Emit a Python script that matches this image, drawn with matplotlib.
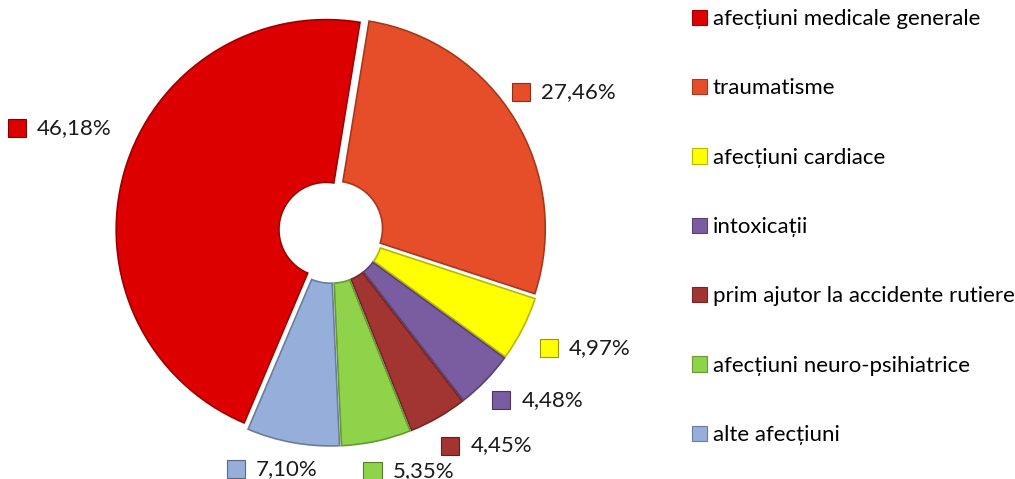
import numpy as np
import matplotlib
matplotlib.use("Agg")
import matplotlib.pyplot as plt
from matplotlib.offsetbox import AnnotationBbox, HPacker, DrawingArea, TextArea
from matplotlib.patches import Rectangle
import matplotlib.colors as mcolors

categories = ["afecțiuni medicale generale", "traumatisme", "afecțiuni cardiace",
              "intoxicații", "prim ajutor la accidente rutiere",
              "afecțiuni neuro-psihiatrice", "alte afecțiuni"]
values = [46.18, 27.46, 4.97, 4.48, 4.45, 5.35, 7.10]
labels = ["46,18%", "27,46%", "4,97%", "4,48%", "4,45%", "5,35%", "7,10%"]
colors = ["#DC0000", "#E64E2A", "#FFFF00", "#7A5CA0", "#A23431", "#8ED34A", "#95AEDA"]

W, H = 1015, 479
plt.rcParams['font.family'] = ['Lato', 'DejaVu Sans']
FS = 16

fig = plt.figure(figsize=(W / 100, H / 100), dpi=100)
ax = fig.add_axes([0, 0, 1, 1])

cx, cy = 331, H - 231
R = 210
FIRST = 203.0          # first slice starts at 203 deg clockwise from 12 o'clock
start = 90 - FIRST

def darker(c, f=0.7):
    r, g, b = mcolors.to_rgb(c)
    return (r * f, g * f, b * f)

wedges, _ = ax.pie(values, colors=colors, startangle=start, counterclock=False,
                   center=(cx, cy), radius=R, explode=[5] * len(values),
                   wedgeprops=dict(width=R * 0.775, linewidth=1.2))
for w, c in zip(wedges, colors):
    w.set_edgecolor(darker(c, 0.72))

ax.set_xlim(0, W)
ax.set_ylim(0, H)
ax.set_aspect('auto')
ax.axis('off')

# mid angles of each slice (clockwise from 12 o'clock)
total = sum(values)
mids = []
ang = FIRST
for v in values:
    span = v / total * 360
    mids.append(ang + span / 2)
    ang += span

# label placement (Excel-like outside labels): angular nudge and distance from centre
lab_dtheta = [4.6, 0.5, -2.3, -4.8, -6.1, -5.8, 3.7]
lab_r = [290, 271, 280, 267, 265, 252, 245]

for lab, c, m, dt, r in zip(labels, colors, mids, lab_dtheta, lab_r):
    da = DrawingArea(13, 13, 0, 0)
    da.add_artist(Rectangle((0, 0), 13, 13, facecolor=c, edgecolor=darker(c, 0.6), linewidth=0.8))
    ta = TextArea(lab, textprops=dict(fontsize=FS, color="#1a1a1a"))
    pk = HPacker(children=[da, ta], align="center", pad=0, sep=8)
    t = np.deg2rad(m + dt)
    pos = (cx + np.sin(t) * r, cy + np.cos(t) * r)
    ab = AnnotationBbox(pk, pos, xycoords='data', frameon=False,
                        box_alignment=(0.5, 0.5), pad=0)
    ax.add_artist(ab)

leg = ax.legend(wedges, categories, loc='upper left', bbox_to_anchor=(692 / W, 1 - 9 / H),
                frameon=False, fontsize=FS, handlelength=0.68, handleheight=0.68,
                handletextpad=0.25, labelspacing=2.22, borderpad=0, borderaxespad=0)
for h in leg.legend_handles:
    h.set_linewidth(0.8)

fig.savefig("out.png", dpi=100)
